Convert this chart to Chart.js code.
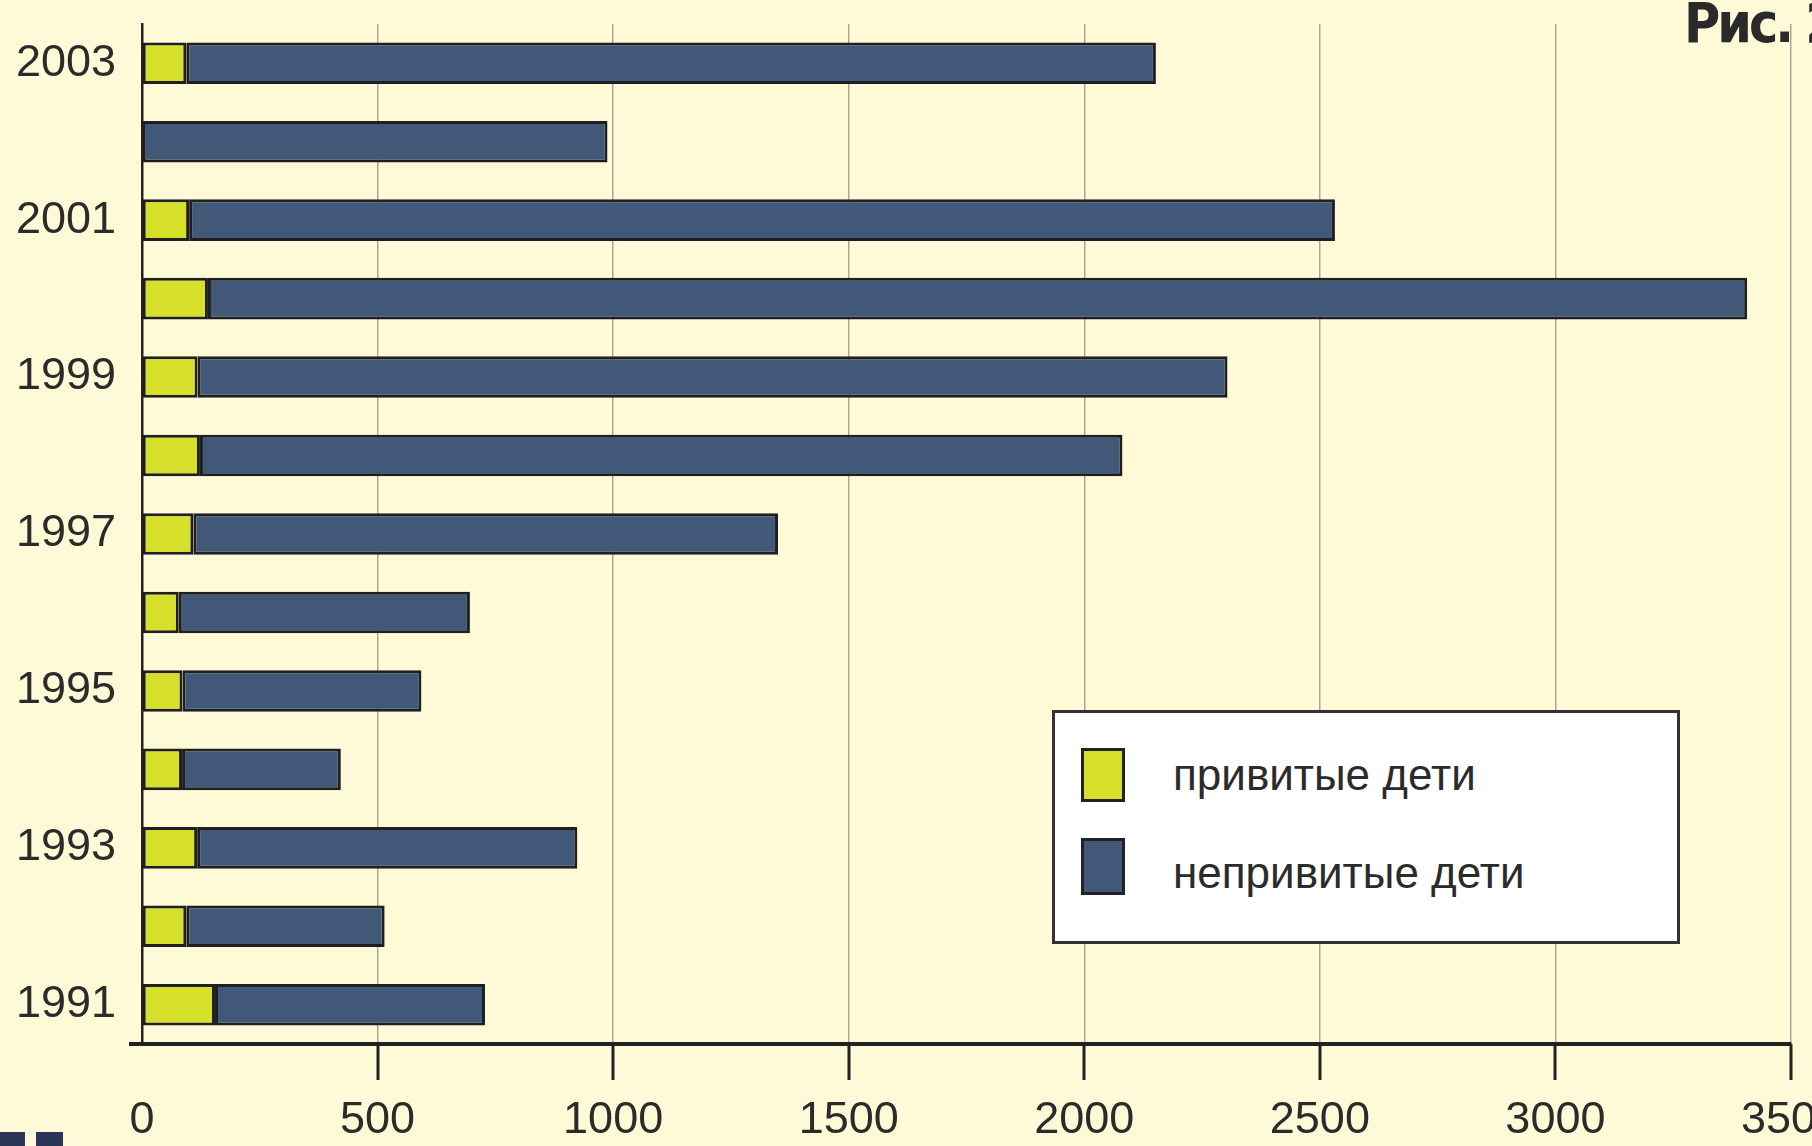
<!DOCTYPE html>
<html lang="ru">
<head>
<meta charset="utf-8">
<title>Привитые и непривитые дети</title>
<script src="https://cdn.jsdelivr.net/npm/chart.js@4.4.1/dist/chart.umd.min.js"></script>
<style>
  html, body { margin: 0; padding: 0; }
  body {
    width: 1812px; height: 1146px; overflow: hidden; position: relative;
    background: #fefad7;
    font-family: 'Liberation Sans', Arial, sans-serif;
    color: #2b2b2b;
  }
  #chartBox { position: absolute; left: 0; top: 0; }
  #fig {
    position: absolute; left: 1684px; top: -4px; margin: 0;
    font-family: 'DejaVu Sans Condensed', 'Liberation Sans', sans-serif;
    font-size: 55px; line-height: 55px; font-weight: bold; color: #2a2a2a;
    letter-spacing: -3px; white-space: nowrap;
  }
  #legend {
    position: absolute; left: 1052px; top: 710px; width: 622px; height: 228px;
    background: #ffffff; border: 3px solid #333;
  }
  #legend .sw { position: absolute; left: 26px; width: 38px; border: 3px solid #222; }
  #legend .txt { position: absolute; left: 118px; font-size: 44px; line-height: 44px; white-space: nowrap; color: #2b2b2b; }
  .mark { position: absolute; top: 1132px; height: 14px; background: #2b3558; }
</style>
</head>
<body>
<div id="chartBox"><canvas id="chart" width="1840" height="1146"></canvas></div>
<div id="fig">Рис. 2</div>
<div id="legend"></div>
<div class="mark" style="left:0;width:25px"></div>
<div class="mark" style="left:36px;width:27px"></div>

<script>
// Years, top to bottom
const years = ['2003', '2002', '2001', '2000', '1999', '1998', '1997', '1996', '1995', '1994', '1993', '1992', '1991'];
// привитые дети
const vaccinated = [94, 0, 100, 140, 118, 123, 109, 78, 86, 85, 117, 94, 155];
// непривитые дети
const unvaccinated = [2058, 988, 2432, 3267, 2186, 1958, 1241, 618, 507, 337, 807, 421, 573];
// x axis ticks
const xTicks = [0, 500, 1000, 1500, 2000, 2500, 3000, 3500];

const seriesNames = ['привитые дети', 'непривитые дети'];
const seriesColors = ['#d6df2a', '#415878'];

const labelFont = { family: "'Liberation Sans', Arial, sans-serif", size: 45 };

// x axis line runs a bit left of the y axis, tick marks hang below it
const axisExtras = {
    id: 'axisExtras',
    afterDraw(chart) {
        const ctx = chart.ctx;
        const a = chart.chartArea;
        const xs = chart.scales.x;
        ctx.save();
        ctx.strokeStyle = '#222';
        ctx.lineWidth = 4;
        ctx.beginPath();
        ctx.moveTo(a.left - 13, a.bottom);
        ctx.lineTo(a.left, a.bottom);
        ctx.stroke();
        ctx.lineWidth = 3;
        xTicks.forEach(v => {
            if (v === 0) return;
            const px = Math.round(xs.getPixelForValue(v));
            ctx.beginPath();
            ctx.moveTo(px, a.bottom);
            ctx.lineTo(px, a.bottom + 36);
            ctx.stroke();
        });
        ctx.restore();
    }
};

const chart = new Chart(document.getElementById('chart'), {
    type: 'bar',
    data: {
        labels: years,
        datasets: [
            { label: seriesNames[0], data: vaccinated, backgroundColor: seriesColors[0] },
            { label: seriesNames[1], data: unvaccinated, backgroundColor: seriesColors[1] }
        ].map(ds => Object.assign(ds, {
            borderColor: '#1f1f1f',
            borderWidth: 3,
            borderSkipped: false,
            barPercentage: 0.53,
            categoryPercentage: 1
        }))
    },
    options: {
        indexAxis: 'y',
        responsive: false,
        animation: false,
        devicePixelRatio: 1,
        layout: { padding: { top: 24, left: 0, right: 49, bottom: 0 } },
        plugins: {
            legend: { display: false },
            tooltip: { enabled: false }
        },
        scales: {
            x: {
                stacked: true,
                min: xTicks[0],
                max: xTicks[xTicks.length - 1],
                afterBuildTicks: scale => { scale.ticks = xTicks.map(v => ({ value: v })); },
                ticks: {
                    font: labelFont, color: '#2b2b2b', padding: 14, maxRotation: 0,
                    callback: v => String(v)
                },
                grid: {
                    color: ctx => ctx.tick && ctx.tick.value === 0 ? 'rgba(0,0,0,0)' : '#aaa796',
                    lineWidth: 1.5,
                    drawTicks: true,
                    tickLength: 36,
                    tickWidth: 0
                },
                border: { color: '#222', width: 4 },
                afterFit: scale => {
                    scale.height = 102;
                    scale.paddingLeft = 0;
                    scale.paddingRight = 0;
                }
            },
            y: {
                stacked: true,
                ticks: {
                    autoSkip: false,
                    font: labelFont,
                    color: '#2b2b2b',
                    padding: 26,
                    callback: (value, index) => Number(years[index]) % 2 === 1 ? years[index] : ''
                },
                grid: { display: false, drawTicks: false },
                border: { color: '#222', width: 2.5 },
                afterFit: scale => {
                    scale.width = 142;
                    scale.paddingTop = 0;
                    scale.paddingBottom = 0;
                }
            }
        }
    },
    plugins: [axisExtras]
});

// Legend built from the datasets
const legend = document.getElementById('legend');
const swatchTops = [35, 125];
const swatchHeights = [48, 51];
const textTops = [40, 138];
chart.data.datasets.forEach((ds, i) => {
    const sw = document.createElement('div');
    sw.className = 'sw';
    sw.style.top = swatchTops[i] + 'px';
    sw.style.height = swatchHeights[i] + 'px';
    sw.style.background = ds.backgroundColor;
    legend.appendChild(sw);
    const t = document.createElement('div');
    t.className = 'txt';
    t.style.top = textTops[i] + 'px';
    t.textContent = ds.label;
    legend.appendChild(t);
});
</script>
</body>
</html>
